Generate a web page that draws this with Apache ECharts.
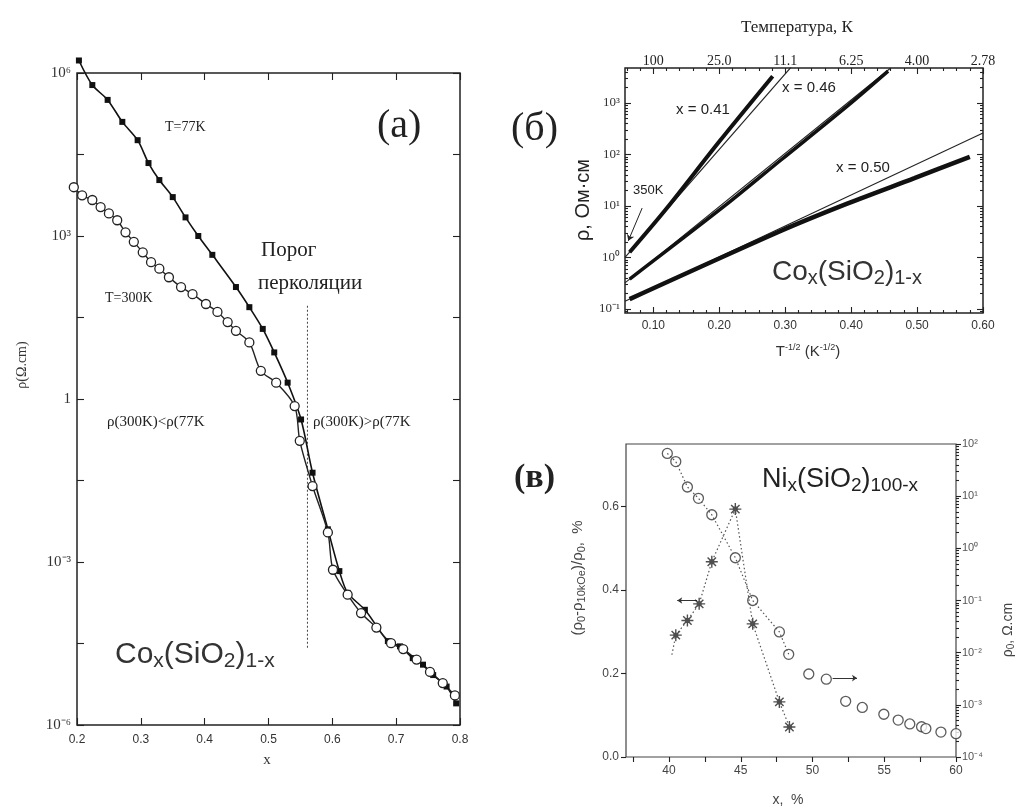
<!DOCTYPE html>
<html>
<head>
<meta charset="utf-8">
<script src="https://cdn.jsdelivr.net/npm/echarts@6/dist/echarts.min.js"></script>
<style>
html, body { margin: 0; padding: 0; background: #fff; }
#chart { width: 1022px; height: 808px; }
</style>
</head>
<body>
<div id="chart"></div>
<script>
// ---- (a) Co_x(SiO2)_1-x : rho (Ohm.cm) vs x ----
const rho77K = [
    [0.203, 1.7e6], [0.224, 6.0e5], [0.248, 3.2e5], [0.271, 1.26e5], [0.295, 5.8e4],
    [0.312, 2.2e4], [0.329, 1.07e4], [0.350, 5.2e3], [0.370, 2.2e3], [0.390, 1.0e3],
    [0.412, 450], [0.449, 115], [0.470, 49], [0.491, 19.5], [0.509, 7.2],
    [0.530, 2.0], [0.551, 0.42], [0.569, 0.044], [0.593, 4.0e-3], [0.611, 6.8e-4],
    [0.624, 2.7e-4], [0.651, 1.32e-4], [0.671, 6.2e-5], [0.687, 3.5e-5], [0.706, 2.8e-5],
    [0.726, 1.7e-5], [0.742, 1.29e-5], [0.758, 8.3e-6], [0.779, 5.1e-6], [0.794, 2.5e-6],
];
const rho300K = [
    [0.195, 7.9e3], [0.208, 5.6e3], [0.224, 4.6e3], [0.237, 3.4e3], [0.250, 2.6e3],
    [0.263, 1.95e3], [0.276, 1.17e3], [0.289, 780], [0.303, 500], [0.316, 330],
    [0.329, 250], [0.344, 174], [0.363, 115], [0.381, 85], [0.402, 56],
    [0.420, 40], [0.436, 26], [0.449, 18], [0.470, 11], [0.488, 3.3],
    [0.512, 2.0], [0.541, 0.74], [0.549, 0.17], [0.569, 0.025], [0.593, 3.5e-3],
    [0.601, 7.2e-4], [0.624, 2.5e-4], [0.645, 1.15e-4], [0.669, 6.2e-5], [0.692, 3.2e-5],
    [0.711, 2.5e-5], [0.732, 1.6e-5], [0.753, 9.5e-6], [0.773, 5.9e-6], [0.792, 3.5e-6],
];
const thresholdLine = [[0.561, 52], [0.561, 2.6e-5]];

// ---- (б) rho vs T^-1/2 ----
const curve041 = [[0.064, 1.26], [0.12, 8.9], [0.20, 178], [0.281, 3310]];
const fit041 = [[0.057, 1.0], [0.309, 5000]];
const curve046 = [[0.064, 0.38], [0.208, 10], [0.294, 79], [0.395, 890], [0.456, 4170]];
const fit046 = [[0.057, 0.32], [0.46, 4790]];
const curve050 = [[0.064, 0.155], [0.294, 3.3], [0.395, 11.2], [0.496, 34.7], [0.58, 90]];
const fit050 = [[0.057, 0.14], [0.6, 260]];
const arrow350K = [[0.083, 9.1], [0.062, 2.1]];
const ticksB = [0.1, 0.2, 0.3, 0.4, 0.5, 0.6];
const decadesB = [-1, 0, 1, 2, 3];

// ---- (в) Ni_x(SiO2)_100-x ----
const magnetoNi = [
    [40.47, 0.292], [41.28, 0.327], [42.10, 0.367], [42.98, 0.468],
    [44.62, 0.594], [45.83, 0.319], [47.69, 0.132], [48.39, 0.072],
];
const magnetoLineStart = [40.2, 0.245];
const rhoNi = [
    [39.88, 66], [40.47, 46], [41.28, 15], [42.05, 9.1], [42.98, 4.4],
    [44.62, 0.66], [45.83, 0.10], [47.69, 0.025], [48.34, 9.3e-3], [49.74, 3.9e-3],
    [50.96, 3.1e-3], [52.31, 1.17e-3], [53.47, 8.9e-4], [54.97, 6.6e-4], [55.97, 5.1e-4],
    [56.78, 4.3e-4], [57.60, 3.8e-4], [57.90, 3.5e-4], [58.95, 3.0e-4], [60.00, 2.8e-4],
];
const arrowLeft = [[41.96, 0.375], [40.57, 0.375]];
const arrowRight = [[51.4, 0.189], [53.1, 0.189]];
const ticksC = [37.5, 40, 42.5, 45, 47.5, 50, 52.5, 55, 57.5, 60];
const labelsC = [40, 45, 50, 55, 60];
const ticksCLeft = [0, 0.2, 0.4, 0.6];

const serif = '"Liberation Serif", "Times New Roman", serif';
const sans = '"Liberation Sans", Arial, sans-serif';
const ink = '#222';

const supMap = {'-': '⁻', '0': '⁰', '1': '¹', '2': '²', '3': '³', '4': '⁴', '5': '⁵', '6': '⁶', '7': '⁷', '8': '⁸', '9': '⁹'};
function sup(n) {
    return String(n).split('').map(c => supMap[c]).join('');
}
function decade(v) {
    return '10' + sup(Math.round(v));
}
function lg(points) {
    return points.map(p => [p[0], Math.log10(p[1])]);
}
function minorLog(min, max) {
    let out = [];
    for (let d = Math.floor(min); d <= Math.ceil(max); d++) {
        for (let k = 2; k <= 9; k++) {
            let v = d + Math.log10(k);
            if (v > min && v < max) out.push(v);
        }
    }
    return out;
}
function minorLinear(step, from, to, skipEvery) {
    let out = [];
    for (let i = from; i <= to; i++) {
        if (i % skipEvery !== 0) out.push(+(i * step).toFixed(4));
    }
    return out;
}

function axis(o) {
    return Object.assign({
        type: 'value',
        axisLine: {show: false, onZero: false},
        splitLine: {show: false},
    }, o);
}
function ticks(inside, length, custom) {
    let t = {show: true, inside: inside, length: length, lineStyle: {color: ink, width: 1.1}};
    if (custom) t.customValues = custom;
    return t;
}
const noLabel = {show: false};

const rangeB = {min: 0.057, max: 0.6};
const rangeBy = {min: -1.08, max: 3.68};

const option = {
    animation: false,
    backgroundColor: '#fff',
    grid: [
        {left: 77, top: 73, width: 383, height: 652, show: true, borderColor: ink, borderWidth: 1.5, backgroundColor: 'transparent'},
        {left: 625, top: 68, width: 358, height: 245, show: true, borderColor: ink, borderWidth: 1.5, backgroundColor: 'transparent'},
        {left: 626, top: 444, width: 330, height: 313, show: true, borderColor: '#444', borderWidth: 1.2, backgroundColor: 'transparent'},
    ],
    xAxis: [
        axis({gridIndex: 0, position: 'bottom', min: 0.2, max: 0.8, interval: 0.1,
            axisTick: ticks(true, 7),
            axisLabel: {color: '#333', fontFamily: sans, fontSize: 12, margin: 9, formatter: v => v.toFixed(1)}}),
        axis({gridIndex: 0, position: 'top', min: 0.2, max: 0.8, interval: 0.1,
            axisTick: ticks(true, 7), axisLabel: noLabel}),
        axis({gridIndex: 1, position: 'bottom', min: rangeB.min, max: rangeB.max,
            axisTick: ticks(true, 6, ticksB),
            axisLabel: {customValues: ticksB, color: '#333', fontFamily: sans, fontSize: 12, margin: 7, formatter: v => v.toFixed(2)}}),
        axis({gridIndex: 1, position: 'bottom', min: rangeB.min, max: rangeB.max,
            axisTick: ticks(true, 3, minorLinear(0.02, 3, 29, 5)), axisLabel: noLabel}),
        axis({gridIndex: 1, position: 'top', min: rangeB.min, max: rangeB.max,
            axisTick: ticks(true, 6, ticksB),
            axisLabel: {customValues: ticksB, color: '#222', fontFamily: serif, fontSize: 14, margin: 0,
                formatter: v => {
                    let t = 1 / (v * v);
                    return t >= 99.5 ? '100' : (t >= 10 ? t.toFixed(1) : t.toFixed(2));
                }}}),
        axis({gridIndex: 1, position: 'top', min: rangeB.min, max: rangeB.max,
            axisTick: ticks(true, 3, minorLinear(0.02, 3, 29, 5)), axisLabel: noLabel}),
        axis({gridIndex: 2, position: 'bottom', min: 37, max: 60,
            axisTick: ticks(false, 5, ticksC),
            axisLabel: {customValues: labelsC, color: '#444', fontFamily: sans, fontSize: 12, margin: 8}}),
    ],
    yAxis: [
        axis({gridIndex: 0, position: 'left', min: -6, max: 6, interval: 1.5,
            axisTick: ticks(true, 7),
            axisLabel: {color: '#333', fontFamily: serif, fontSize: 15, margin: 6,
                formatter: v => (Math.abs(v % 3) < 1e-9 ? (v === 0 ? '1' : decade(v)) : '')}}),
        axis({gridIndex: 0, position: 'right', min: -6, max: 6, interval: 1.5,
            axisTick: ticks(true, 7), axisLabel: noLabel}),
        axis({gridIndex: 1, position: 'left', min: rangeBy.min, max: rangeBy.max,
            axisTick: ticks(true, 6, decadesB),
            axisLabel: {customValues: decadesB, color: '#333', fontFamily: serif, fontSize: 13, margin: 5, formatter: decade}}),
        axis({gridIndex: 1, position: 'left', min: rangeBy.min, max: rangeBy.max,
            axisTick: ticks(true, 3, minorLog(rangeBy.min, rangeBy.max)), axisLabel: noLabel}),
        axis({gridIndex: 1, position: 'right', min: rangeBy.min, max: rangeBy.max,
            axisTick: ticks(true, 6, decadesB), axisLabel: noLabel}),
        axis({gridIndex: 1, position: 'right', min: rangeBy.min, max: rangeBy.max,
            axisTick: ticks(true, 3, minorLog(rangeBy.min, rangeBy.max)), axisLabel: noLabel}),
        axis({gridIndex: 2, position: 'left', min: 0, max: 0.75,
            axisTick: ticks(false, 5, ticksCLeft),
            axisLabel: {customValues: ticksCLeft, color: '#444', fontFamily: sans, fontSize: 12, margin: 7, formatter: v => v.toFixed(1)}}),
        axis({gridIndex: 2, position: 'right', min: -4, max: 2, interval: 1,
            axisTick: ticks(false, 5),
            axisLabel: {color: '#555', fontFamily: sans, fontSize: 11, margin: 6, formatter: decade}}),
        axis({gridIndex: 2, position: 'right', min: -4, max: 2,
            axisTick: ticks(false, 3, minorLog(-4, 2)), axisLabel: noLabel}),
    ],
    series: [
        // (a)
        {type: 'line', xAxisIndex: 0, yAxisIndex: 0, data: lg(thresholdLine), symbol: 'none',
            lineStyle: {color: '#444', width: 1, type: [2, 2]}, silent: true},
        {type: 'line', name: 'T=77K', xAxisIndex: 0, yAxisIndex: 0, data: lg(rho77K), clip: false,
            smooth: 0.3, symbol: 'rect', symbolSize: 6,
            lineStyle: {color: '#111', width: 1.6}, itemStyle: {color: '#111'}},
        {type: 'line', name: 'T=300K', xAxisIndex: 0, yAxisIndex: 0, data: lg(rho300K), clip: false,
            smooth: 0.3, symbol: 'circle', symbolSize: 9,
            lineStyle: {color: '#222', width: 1.4},
            itemStyle: {color: '#fff', borderColor: '#222', borderWidth: 1.3}},
        // (б)
        {type: 'line', xAxisIndex: 2, yAxisIndex: 2, data: lg(fit041), symbol: 'none', lineStyle: {color: ink, width: 1.1}},
        {type: 'line', xAxisIndex: 2, yAxisIndex: 2, data: lg(fit046), symbol: 'none', lineStyle: {color: ink, width: 1.1}},
        {type: 'line', xAxisIndex: 2, yAxisIndex: 2, data: lg(fit050), symbol: 'none', lineStyle: {color: ink, width: 1.1}},
        {type: 'line', xAxisIndex: 2, yAxisIndex: 2, data: lg(curve041), symbol: 'none', smooth: 0.3, lineStyle: {color: '#111', width: 4}},
        {type: 'line', xAxisIndex: 2, yAxisIndex: 2, data: lg(curve046), symbol: 'none', smooth: 0.3, lineStyle: {color: '#111', width: 3.5}},
        {type: 'line', xAxisIndex: 2, yAxisIndex: 2, data: lg(curve050), symbol: 'none', smooth: 0.3, lineStyle: {color: '#111', width: 4.5}},
        {type: 'lines', coordinateSystem: 'cartesian2d', xAxisIndex: 2, yAxisIndex: 2,
            symbol: ['none', 'arrow'], symbolSize: 6,
            lineStyle: {color: ink, width: 1, opacity: 1},
            data: [{coords: lg(arrow350K)}]},
        // (в)
        {type: 'line', xAxisIndex: 6, yAxisIndex: 6, data: [magnetoLineStart].concat(magnetoNi), symbol: 'none',
            lineStyle: {color: '#555', width: 1.2, type: [1.5, 2.5]}},
        {type: 'scatter', xAxisIndex: 6, yAxisIndex: 6, data: magnetoNi, symbolSize: 12,
            symbol: 'path://M-0.7,-6L0.7,-6L0.7,6L-0.7,6Z M-6,-0.7L6,-0.7L6,0.7L-6,0.7Z M3.7,-4.7L4.7,-3.7L-3.7,4.7L-4.7,3.7Z M-4.7,-3.7L-3.7,-4.7L4.7,3.7L3.7,4.7Z M-2.5,-2.5L2.5,-2.5L2.5,2.5L-2.5,2.5Z',
            itemStyle: {color: '#222'}},
        {type: 'line', xAxisIndex: 6, yAxisIndex: 7, data: lg(rhoNi.slice(0, 9)), symbol: 'none',
            lineStyle: {color: '#555', width: 1.2, type: [1.5, 2.5]}},
        {type: 'scatter', xAxisIndex: 6, yAxisIndex: 7, data: lg(rhoNi), symbol: 'circle', symbolSize: 10,
            itemStyle: {color: '#fff', borderColor: '#333', borderWidth: 1.3}},
        {type: 'lines', coordinateSystem: 'cartesian2d', xAxisIndex: 6, yAxisIndex: 6,
            symbol: ['none', 'arrow'], symbolSize: 5,
            lineStyle: {color: '#333', width: 1, opacity: 1},
            data: [{coords: arrowLeft}, {coords: arrowRight}]},
    ],
    graphic: [
        // (a) texts
        {type: 'text', x: 165, y: 127, style: {text: 'T=77K', font: '14px ' + serif, fill: ink, verticalAlign: 'middle'}},
        {type: 'text', x: 377, y: 126, style: {text: '(a)', font: '40px ' + serif, fill: ink, verticalAlign: 'middle'}},
        {type: 'text', x: 261, y: 250, style: {text: 'Порог', font: '21px ' + serif, fill: ink, verticalAlign: 'middle'}},
        {type: 'text', x: 258, y: 283, style: {text: 'перколяции', font: '21px ' + serif, fill: ink, verticalAlign: 'middle'}},
        {type: 'text', x: 105, y: 298, style: {text: 'T=300K', font: '14px ' + serif, fill: ink, verticalAlign: 'middle'}},
        {type: 'text', x: 107, y: 422, style: {text: 'ρ(300K)<ρ(77K', font: '15px ' + serif, fill: ink, verticalAlign: 'middle'}},
        {type: 'text', x: 313, y: 422, style: {text: 'ρ(300K)>ρ(77K', font: '15px ' + serif, fill: ink, verticalAlign: 'middle'}},
        {type: 'text', x: 115, y: 655, style: {
            text: '{b|Co}{s|x}{b|(SiO}{s|2}{b|)}{s|1-x}', verticalAlign: 'middle',
            rich: {b: {fontSize: 30, fontFamily: sans, fill: '#333', lineHeight: 34}, s: {fontSize: 21, fontFamily: sans, fill: '#333', lineHeight: 14, verticalAlign: 'bottom'}}}},
        {type: 'text', x: 267, y: 760, style: {text: 'x', font: '15px ' + serif, fill: '#333', align: 'center', verticalAlign: 'middle'}},
        {type: 'text', x: 22, y: 365, rotation: Math.PI / 2, style: {text: 'ρ(Ω.cm)', font: '14px ' + serif, fill: '#333', align: 'center', verticalAlign: 'middle'}},
        // (б) texts
        {type: 'text', x: 797, y: 28, style: {text: 'Температура, К', font: '17px ' + serif, fill: ink, align: 'center', verticalAlign: 'middle'}},
        {type: 'text', x: 511, y: 129, style: {text: '(б)', font: '40px ' + serif, fill: ink, verticalAlign: 'middle'}},
        {type: 'text', x: 583, y: 200, rotation: Math.PI / 2, style: {text: 'ρ, Ом·см', font: '20px ' + sans, fill: ink, align: 'center', verticalAlign: 'middle'}},
        {type: 'text', x: 703, y: 110, style: {text: 'x = 0.41', font: '15px ' + sans, fill: ink, align: 'center', verticalAlign: 'middle'}},
        {type: 'text', x: 809, y: 88, style: {text: 'x = 0.46', font: '15px ' + sans, fill: ink, align: 'center', verticalAlign: 'middle'}},
        {type: 'text', x: 863, y: 168, style: {text: 'x = 0.50', font: '15px ' + sans, fill: ink, align: 'center', verticalAlign: 'middle'}},
        {type: 'text', x: 633, y: 190, style: {text: '350K', font: '13px ' + sans, fill: ink, verticalAlign: 'middle'}},
        {type: 'text', x: 772, y: 272, style: {
            text: '{b|Co}{s|x}{b|(SiO}{s|2}{b|)}{s|1-x}', verticalAlign: 'middle',
            rich: {b: {fontSize: 28, fontFamily: sans, fill: '#333', lineHeight: 32}, s: {fontSize: 20, fontFamily: sans, fill: '#333', lineHeight: 13, verticalAlign: 'bottom'}}}},
        {type: 'text', x: 808, y: 352, style: {
            text: '{n|T}{p|-1/2}{n| (K}{p|-1/2}{n|)}', align: 'center', verticalAlign: 'middle',
            rich: {n: {fontSize: 15, fontFamily: sans, fill: '#333', lineHeight: 18}, p: {fontSize: 9, fontFamily: sans, fill: '#333', lineHeight: 10, verticalAlign: 'top'}}}},
        // (в) texts
        {type: 'text', x: 514, y: 478, style: {text: '(в)', font: 'bold 34px ' + serif, fill: ink, verticalAlign: 'middle'}},
        {type: 'text', x: 762, y: 480, style: {
            text: '{b|Ni}{s|x}{b|(SiO}{s|2}{b|)}{s|100-x}', verticalAlign: 'middle',
            rich: {b: {fontSize: 27, fontFamily: sans, fill: '#222', lineHeight: 30}, s: {fontSize: 19, fontFamily: sans, fill: '#222', lineHeight: 12, verticalAlign: 'bottom'}}}},
        {type: 'text', x: 788, y: 800, style: {text: 'x,  %', font: '14px ' + sans, fill: '#444', align: 'center', verticalAlign: 'middle'}},
        {type: 'text', x: 578, y: 578, rotation: Math.PI / 2, style: {
            text: '{n|(ρ}{s|0}{n|-ρ}{s|10kOe}{n|)/ρ}{s|0}{n|,  %}', align: 'center', verticalAlign: 'middle',
            rich: {n: {fontSize: 15, fontFamily: sans, fill: '#444', lineHeight: 18}, s: {fontSize: 11, fontFamily: sans, fill: '#444', lineHeight: 9, verticalAlign: 'bottom'}}}},
        {type: 'text', x: 1008, y: 630, rotation: Math.PI / 2, style: {
            text: '{n|ρ}{s|0}{n|, Ω.cm}', align: 'center', verticalAlign: 'middle',
            rich: {n: {fontSize: 14, fontFamily: sans, fill: '#444', lineHeight: 17}, s: {fontSize: 10, fontFamily: sans, fill: '#444', lineHeight: 8, verticalAlign: 'bottom'}}}},
    ],
};

const myChart = echarts.init(document.getElementById('chart'));
myChart.setOption(option);
window.addEventListener('resize', myChart.resize);
</script>
</body>
</html>
